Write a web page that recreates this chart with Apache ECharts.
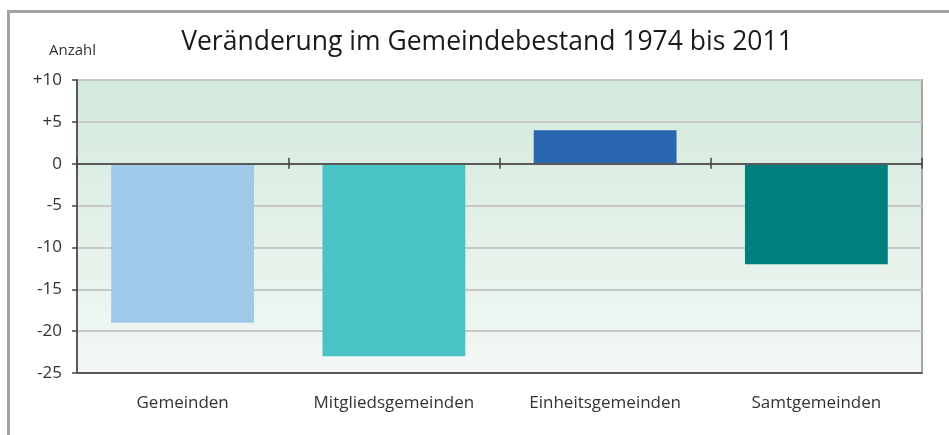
<!DOCTYPE html>
<html>
<head>
<meta charset="utf-8">
<script src="https://cdn.jsdelivr.net/npm/echarts@6/dist/echarts.min.js"></script>
<style>
html,body{margin:0;padding:0;background:#fff;}
#c{width:949px;height:435px;}
</style>
</head>
<body>
<div id="c"></div>
<script>
const titleText = 'Veränderung im Gemeindebestand 1974 bis 2011';
const unitLabel = 'Anzahl';
const categories = ['Gemeinden', 'Mitgliedsgemeinden', 'Einheitsgemeinden', 'Samtgemeinden'];
const values = [-19, -23, 4, -12];
const barColors = ['#9FC8E9', '#4AC3C7', '#2B66B1', '#007F7F'];
const yMin = -25, yMax = 10, yStep = 5;

const FONT = '"Open Sans", "Noto Sans", sans-serif';
const chart = echarts.init(document.getElementById('c'), null, {renderer: 'canvas'});

const axisDark = '#5A5A5A';

chart.setOption({
  animation: false,
  backgroundColor: '#ffffff',
  textStyle: {fontFamily: FONT},
  graphic: [
    {type: 'rect', shape: {x: 8.5, y: 11.5, width: 1000, height: 1000},
     style: {fill: 'none', stroke: '#A3A3A3', lineWidth: 3}, silent: true, z: 0},
    {type: 'text', x: 487, y: 42,
     style: {text: titleText, fontFamily: FONT, fontSize: 26.5, fill: '#1a1a1a', align: 'center', verticalAlign: 'middle'}},
    {type: 'text', x: 49, y: 51,
     style: {text: unitLabel, fontFamily: FONT, fontSize: 15, fill: '#333', align: 'left', verticalAlign: 'middle'}}
  ],
  grid: {
    left: 77, right: 27, top: 80, bottom: 62,
    show: true,
    borderColor: '#A6A6A6', borderWidth: 2,
    backgroundColor: new echarts.graphic.LinearGradient(0, 0, 0, 1, [
      {offset: 0, color: '#D3E9DC'},
      {offset: 1, color: '#F3F8F5'}
    ])
  },
  xAxis: [
    {
      type: 'category', data: categories, position: 'bottom', z: 5,
      axisLine: {onZero: true, onZeroAxisIndex: 0, lineStyle: {color: axisDark, width: 2}},
      axisTick: {show: true, inside: false, length: 5, lineStyle: {color: '#444', width: 1.5}},
      axisLabel: {show: false}, splitLine: {show: false}
    },
    {
      type: 'category', data: categories, position: 'bottom', z: 5,
      axisLine: {onZero: true, onZeroAxisIndex: 0, lineStyle: {color: axisDark, width: 2}},
      axisTick: {show: true, inside: true, length: 6, lineStyle: {color: '#444', width: 1.5}},
      axisLabel: {show: false}, splitLine: {show: false}
    },
    {
      type: 'category', data: categories, position: 'bottom', z: 5,
      axisLine: {onZero: false, lineStyle: {color: axisDark, width: 2}},
      axisTick: {show: false},
      axisLabel: {show: true, margin: 22, color: '#333', fontSize: 17, fontFamily: FONT},
      splitLine: {show: false}
    }
  ],
  yAxis: {
    type: 'value', min: yMin, max: yMax, interval: yStep, z: 1,
    axisLine: {show: true, lineStyle: {color: axisDark, width: 2}},
    axisTick: {show: true, inside: false, length: 5, lineStyle: {color: '#444', width: 1.5}},
    axisLabel: {
      margin: 15, color: '#333', fontSize: 17, fontFamily: FONT,
      formatter: v => (v > 0 ? '+' + v : String(v))
    },
    splitLine: {show: true, lineStyle: {color: '#C8C8C8', width: 2}}
  },
  series: [{
    type: 'bar',
    xAxisIndex: 2,
    data: values.map((v, i) => ({value: v, itemStyle: {color: barColors[i]}})),
    barWidth: '67.6%',
    z: 2
  }]
});
</script>
</body>
</html>
